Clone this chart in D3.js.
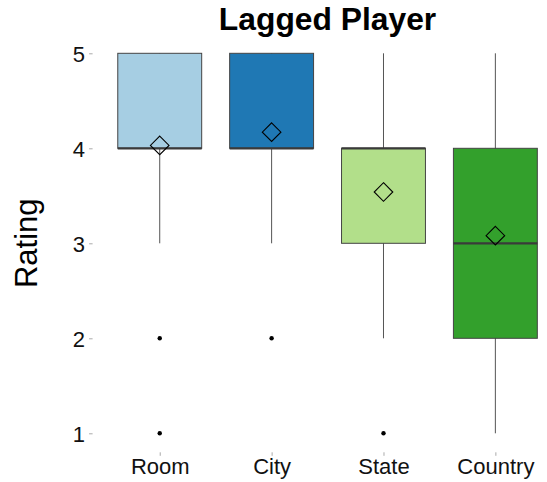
<!DOCTYPE html>
<html>
<head>
<meta charset="utf-8">
<script src="https://cdn.jsdelivr.net/npm/d3@7"></script>
<style>
  html, body { margin: 0; padding: 0; background: #fff; }
  svg { display: block; font-family: "Liberation Sans", Arial, sans-serif; }
</style>
</head>
<body>
<svg id="chart" width="547" height="482"></svg>
<script>
// Rating distribution per lag level
const categories = ["Room", "City", "State", "Country"];
const q1Values = [4, 4, 3, 2];
const medianValues = [4, 4, 4, 3];
const q3Values = [5, 5, 4, 4];
const whiskerLow = [3, 3, 2, 1];
const whiskerHigh = [5, 5, 5, 5];
const meanValues = [4.03, 4.17, 3.54, 3.08];
const outlierValues = [[2, 1], [2], [1], []];
const fillColors = ["#A6CEE3", "#1F78B4", "#B2DF8A", "#33A02C"];
const yTicks = [1, 2, 3, 4, 5];

const rows = categories.map((c, i) => ({
  cat: c,
  q1: q1Values[i], med: medianValues[i], q3: q3Values[i],
  lo: whiskerLow[i], hi: whiskerHigh[i],
  mean: meanValues[i], out: outlierValues[i], fill: fillColors[i]
}));

const svg = d3.select("#chart");
const panel = { left: 92.6, right: 562.5, top: 34.3, bottom: 452.3 };

const x = d3.scalePoint()
  .domain(categories)
  .range([panel.left, panel.right])
  .padding(0.6);
const boxW = x.step() * 0.75;

const y = d3.scaleLinear()
  .domain([0.8, 5.2])
  .range([panel.bottom, panel.top]);

// Axes
const yAxis = svg.append("g")
  .attr("transform", `translate(${panel.left},0)`)
  .call(d3.axisLeft(y).tickValues(yTicks).tickFormat(d3.format("d")).tickSize(3.5).tickPadding(4));
const xAxis = svg.append("g")
  .attr("transform", `translate(0,${panel.bottom})`)
  .call(d3.axisBottom(x).tickSize(3.5).tickPadding(3));
[yAxis, xAxis].forEach(g => {
  g.select(".domain").remove();
  g.selectAll(".tick line").attr("stroke", "#aaa").attr("stroke-width", 1);
  g.selectAll(".tick text")
    .attr("fill", "#111")
    .style("font-size", "22px")
    .style("font-family", "'Liberation Sans', Arial, sans-serif");
});
yAxis.selectAll(".tick text").attr("dy", "0.36em");

// Whiskers
const plot = svg.append("g");
plot.selectAll("line.whisker")
  .data(rows).join("line")
  .attr("class", "whisker")
  .attr("x1", d => x(d.cat)).attr("x2", d => x(d.cat))
  .attr("y1", d => y(d.lo)).attr("y2", d => y(d.hi))
  .attr("stroke", "#555").attr("stroke-width", 1);

// Boxes
plot.selectAll("rect.box")
  .data(rows).join("rect")
  .attr("class", "box")
  .attr("x", d => x(d.cat) - boxW / 2)
  .attr("width", boxW)
  .attr("y", d => y(d.q3))
  .attr("height", d => y(d.q1) - y(d.q3))
  .attr("fill", d => d.fill)
  .attr("stroke", "#444").attr("stroke-width", 1);

// Medians
plot.selectAll("line.median")
  .data(rows).join("line")
  .attr("class", "median")
  .attr("x1", d => x(d.cat) - boxW / 2).attr("x2", d => x(d.cat) + boxW / 2)
  .attr("y1", d => y(d.med)).attr("y2", d => y(d.med))
  .attr("stroke", "#3a3a3a").attr("stroke-width", 2.2);

// Outliers
plot.selectAll("g.outliers")
  .data(rows).join("g")
  .attr("class", "outliers")
  .selectAll("circle")
  .data(d => d.out.map(v => ({ cat: d.cat, v })))
  .join("circle")
  .attr("cx", d => x(d.cat)).attr("cy", d => y(d.v))
  .attr("r", 2.2).attr("fill", "#000");

// Means as open diamonds
const dh = 9.3;
plot.selectAll("path.mean")
  .data(rows).join("path")
  .attr("class", "mean")
  .attr("transform", d => `translate(${x(d.cat)},${y(d.mean)})`)
  .attr("d", `M0,${-dh}L${dh},0L0,${dh}L${-dh},0Z`)
  .attr("fill", "none").attr("stroke", "#000").attr("stroke-width", 1.1);

// Title and axis label
svg.append("text")
  .attr("x", (panel.left + panel.right) / 2).attr("y", 29.5)
  .attr("text-anchor", "middle")
  .style("font-size", "31.8px").style("font-weight", "bold")
  .attr("fill", "#000")
  .text("Lagged Player");

svg.append("text")
  .attr("transform", `translate(36.5,${(panel.top + panel.bottom) / 2}) rotate(-90)`)
  .attr("text-anchor", "middle")
  .style("font-size", "31px")
  .attr("fill", "#000")
  .text("Rating");
</script>
</body>
</html>
